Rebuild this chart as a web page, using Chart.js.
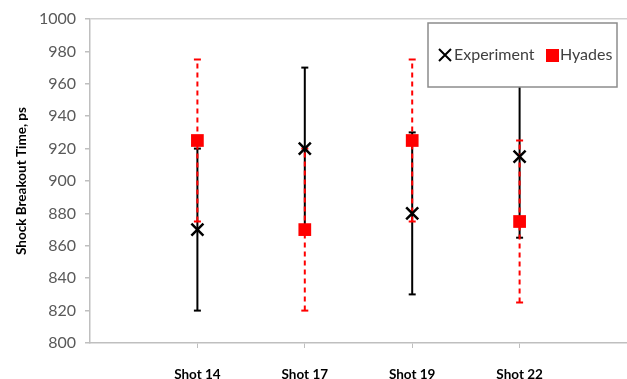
<html>
<head>
<style>
  body { margin: 0; background: #fff; }
  #wrap { width: 627px; height: 379px; }
</style>
</head>
<body>
<div id="wrap">
  <canvas id="myChart" width="627" height="379"></canvas>
</div>
<script src="https://cdn.jsdelivr.net/npm/chart.js"></script>
<script>
const shots = ['Shot 14', 'Shot 17', 'Shot 19', 'Shot 22'];
const experiment = [870, 920, 880, 915];
const experimentErr = [50, 50, 50, 50];
const hyades = [925, 870, 925, 875];
const hyadesErr = [50, 50, 50, 50];
const yTicks = [800, 820, 840, 860, 880, 900, 920, 940, 960, 980, 1000];

// shots sit at x = 1..4 on a 0..5 axis
const points = (vals) => vals.map((v, i) => ({x: i + 1, y: v}));
const errSegments = (vals, errs) => {
  const out = [];
  vals.forEach((v, i) => {
    out.push({x: i + 1, y: v - errs[i]});
    out.push({x: i + 1, y: v + errs[i]});
    out.push({x: i + 1, y: null});
  });
  return out;
};

const legendBox = {
  id: 'legendBox',
  afterDatasetsDraw(chart) {
    const ctx = chart.ctx;
    ctx.save();
    ctx.fillStyle = '#fff';
    ctx.fillRect(428, 23, 189, 64);
    ctx.strokeStyle = '#8c8c8c';
    ctx.lineWidth = 1.5;
    ctx.strokeRect(428, 23, 189, 64);
    // cross marker
    ctx.strokeStyle = '#000';
    ctx.lineWidth = 2;
    ctx.beginPath();
    ctx.moveTo(439, 49); ctx.lineTo(451, 61);
    ctx.moveTo(451, 49); ctx.lineTo(439, 61);
    ctx.stroke();
    // square marker
    ctx.fillStyle = '#ff0000';
    ctx.fillRect(546, 49, 13, 13);
    ctx.fillStyle = '#404040';
    ctx.font = '16px Lato';
    ctx.textBaseline = 'middle';
    ctx.fillText('Experiment', 454, 55);
    ctx.fillText('Hyades', 560, 55);
    ctx.restore();
  }
};

const config = {
  type: 'line',
  data: {
    datasets: [{
      label: 'Experiment',
      data: points(experiment),
      showLine: false,
      pointStyle: 'crossRot',
      pointRadius: 8.5,
      pointBorderWidth: 2.5,
      borderColor: '#000',
      backgroundColor: '#000',
      order: 2
    }, {
      label: 'Hyades',
      data: points(hyades),
      showLine: false,
      pointStyle: 'rect',
      pointRadius: 9,
      pointBorderWidth: 0,
      borderColor: '#ff0000',
      backgroundColor: '#ff0000',
      order: 1
    }, {
      label: 'Experiment error',
      data: errSegments(experiment, experimentErr),
      borderColor: '#000',
      borderWidth: 2,
      spanGaps: false,
      pointStyle: 'line',
      pointRadius: 3.5,
      pointBorderWidth: 2,
      pointBorderColor: '#000',
      order: 4
    }, {
      label: 'Hyades error',
      data: errSegments(hyades, hyadesErr),
      borderColor: '#ff0000',
      borderWidth: 2,
      borderDash: [5, 4],
      spanGaps: false,
      pointStyle: 'line',
      pointRadius: 3.5,
      pointBorderWidth: 2,
      pointBorderColor: '#ff0000',
      order: 3
    }]
  },
  options: {
    responsive: false,
    animation: false,
    layout: { autoPadding: false, padding: { top: 19, right: -2, left: 0, bottom: 0 } },
    plugins: {
      legend: { display: false },
      tooltip: { enabled: false }
    },
    scales: {
      x: {
        type: 'linear',
        min: 0,
        max: 5,
        afterBuildTicks: (scale) => {
          scale.ticks = shots.map((s, i) => ({value: i + 1}));
        },
        afterFit: (scale) => {
          scale.height = 36;
          scale.paddingLeft = 0;
          scale.paddingRight = 0;
        },
        ticks: {
          callback: (v) => shots[v - 1],
          color: '#000',
          font: { family: 'Lato', size: 13.5, weight: 'bold' },
          padding: 19,
          maxRotation: 0
        },
        grid: {
          drawOnChartArea: false,
          tickLength: 5,
          tickColor: '#bfbfbf'
        },
        border: { color: '#bfbfbf', width: 1.5 }
      },
      y: {
        min: 800,
        max: 1000,
        afterBuildTicks: (scale) => {
          scale.ticks = yTicks.map(v => ({value: v}));
        },
        afterFit: (scale) => { scale.width = 90; },
        ticks: {
          callback: (v) => String(v),
          color: '#595959',
          font: { family: 'Lato', size: 16 },
          padding: 9
        },
        grid: {
          color: (c) => c.tick && c.tick.value === 1000 ? '#d0d0d0' : 'rgba(0,0,0,0)',
          lineWidth: 1.5,
          tickLength: 5,
          tickColor: '#bfbfbf'
        },
        border: { color: '#bfbfbf', width: 1.5 },
        title: {
          display: true,
          text: 'Shock Breakout Time, ps',
          color: '#000',
          font: { family: 'Lato', size: 13.5, weight: 'bold' },
          padding: { top: 14, bottom: 0 }
        }
      }
    }
  },
  plugins: [legendBox]
};

const myChart = new Chart(document.getElementById('myChart'), config);
</script>
</body>
</html>
